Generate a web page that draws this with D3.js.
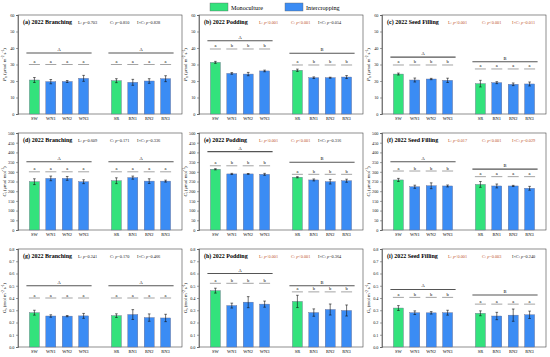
<!DOCTYPE html>
<html><head><meta charset="utf-8">
<script src="https://cdn.jsdelivr.net/npm/d3@7"></script>
<style>body{margin:0;background:#fff}svg{display:block}text{font-family:"Liberation Serif","Times New Roman",serif}</style>
</head><body>
<svg id="c" width="550" height="357"></svg>
<script>
const categories = ["SW","WN1","WN2","WN3","SR","RN1","RN2","RN3"];
const slots = ["_l","SW","WN1","WN2","WN3","_g","SR","RN1","RN2","RN3","_r"];
const titles = ["(a) 2022 Branching","(b) 2022 Podding","(c) 2022 Seed Filling",
                "(d) 2022 Branching","(e) 2022 Podding","(f) 2022 Seed Filling",
                "(g) 2022 Branching","(h) 2022 Podding","(i) 2022 Seed Filling"];
const statsText = [
 ["L: p=0.703","C: p=0.810","I×C: p=0.828"],
 ["L: p<0.001","C: p<0.001","I×C: p=0.054"],
 ["L: p<0.001","C: p<0.001","I×C: p=0.011"],
 ["L: p=0.609","C: p=0.171","I×C: p=0.336"],
 ["L: p<0.001","C: p<0.001","I×C: p=0.316"],
 ["L: p=0.017","C: p<0.001","I×C: p=0.029"],
 ["L: p=0.241","C: p=0.170","I×C: p=0.466"],
 ["L: p<0.001","C: p<0.001","I×C: p=0.364"],
 ["L: p<0.001","C: p=0.003","I×C: p=0.240"]];
const statsSig = [[0,0,0],[1,1,0],[1,1,1],[0,0,0],[1,1,0],[1,1,1],[0,0,0],[1,1,0],[1,1,0]];

// Pn
const pnBranch = [20.6,19.6,19.7,21.6,20.2,19.2,20.0,21.4];
const pnBranchErr = [1.5,1.3,0.6,1.8,1.2,1.8,1.4,1.8];
const pnPod = [31.3,24.6,24.2,26.1,26.5,22.0,22.0,22.4];
const pnPodErr = [0.6,0.5,1.0,0.5,0.7,0.5,0.3,0.9];
const pnFill = [24.2,20.6,21.2,20.4,18.4,19.0,18.0,18.2];
const pnFillErr = [0.6,1.2,0.4,1.3,2.0,0.6,0.8,1.2];
// Ci
const ciBranch = [249,266,266,249,254,270,252,252];
const ciBranchErr = [15,12,10,10,15,8,12,5];
const ciPod = [313,289,289,287,272,258,249,254];
const ciPodErr = [3,3,2,5,3,5,12,8];
const ciFill = [258,223,228,227,235,227,227,215];
const ciFillErr = [8,8,15,5,15,10,3,10];
// Gs
const gsBranch = [0.28,0.253,0.252,0.254,0.256,0.265,0.24,0.237];
const gsBranchErr = [0.02,0.01,0.005,0.02,0.015,0.04,0.03,0.03];
const gsPod = [0.46,0.338,0.366,0.35,0.372,0.281,0.306,0.298];
const gsPodErr = [0.02,0.02,0.045,0.025,0.05,0.03,0.045,0.045];
const gsFill = [0.318,0.28,0.279,0.28,0.275,0.253,0.26,0.263];
const gsFillErr = [0.02,0.015,0.01,0.02,0.02,0.03,0.05,0.03];

const values = [pnBranch,pnPod,pnFill,ciBranch,ciPod,ciFill,gsBranch,gsPod,gsFill];
const errors = [pnBranchErr,pnPodErr,pnFillErr,ciBranchErr,ciPodErr,ciFillErr,gsBranchErr,gsPodErr,gsFillErr];

const smallLetters = [
 ["a","a","a","a","a","a","a","a"],
 ["a","b","b","b","a","b","b","b"],
 ["a","b","b","b","a","a","a","a"],
 ["a","a","a","a","a","a","a","a"],
 ["a","b","b","b","a","b","b","b"],
 ["a","b","b","b","a","a","a","a"],
 ["a","a","a","a","a","a","a","a"],
 ["a","b","b","b","a","b","b","b"],
 ["a","b","b","b","a","a","a","a"]];
const bigLetters = [["A","A"],["A","B"],["A","B"],["A","A"],["A","B"],["A","B"],["A","A"],["A","B"],["A","B"]];
// annotation levels (data units): [big left, big right, small left, small right]
const levels = [
 [37,37,30,30],[44.4,36.8,39.4,29.7],[34.5,31.7,29.7,27.3],
 [352,352,300,300],[404,349,331,287],[352,314,304,275],
 [0.5,0.5,0.4,0.4],[0.6,0.5,0.52,0.45],[0.47,0.425,0.405,0.35]];

const yMax = [60,500,0.8];
const yStep = [10,50,0.1];
const yLabels = [["P","n"," (μmol m","-2"," s","-1",")"],["C","i"," (μmol mol","-1",")","",""],["G","s"," (mol m","-2"," s","-1",")"]];
const legendNames = ["Monoculture","Intercropping"];

const colX = [18,199,382], panelW = 164;
const rowTop = [15,133,249], rowBot = [114,230,347];
const green = "#33e27c", blue = "#3b8cf4", sigColor = "#c0562a";

const svg = d3.select("#c");

// legend
const leg = svg.append("g");
[[210,green,legendNames[0]],[285,blue,legendNames[1]]].forEach(([x,c,t])=>{
  leg.append("rect").attr("x",x).attr("y",3).attr("width",18).attr("height",8).attr("fill",c).attr("stroke","#666").attr("stroke-width",0.4);
  leg.append("text").attr("x",x+21).attr("y",10).attr("font-size",6.2).text(t);
});

for(let p=0;p<9;p++){
  const r = Math.floor(p/3), c = p%3;
  const x0 = colX[c], top = rowTop[r], bot = rowBot[r];
  const g = svg.append("g");
  const x = d3.scalePoint().domain(slots).range([x0,x0+panelW]);
  const y = d3.scaleLinear().domain([0,yMax[r]]).range([bot,top]);
  const ticks = d3.range(0, yMax[r]+yStep[r]/2, yStep[r]);
  const fmt = r===2 ? d3.format(".1f") : d3.format("d");
  // frame
  g.append("rect").attr("x",x0).attr("y",top).attr("width",panelW).attr("height",bot-top)
   .attr("fill","none").attr("stroke","#444").attr("stroke-width",0.6);
  const ax = g.append("g").attr("transform",`translate(${x0},0)`)
    .call(d3.axisLeft(y).tickValues(ticks).tickFormat(fmt).tickSize(2).tickPadding(1.5));
  ax.select(".domain").attr("stroke","#444").attr("stroke-width",0.6);
  ax.selectAll(".tick line").attr("stroke","#444").attr("stroke-width",0.5);
  ax.selectAll(".tick text").attr("font-size",4.3).attr("font-family","Liberation Serif").attr("fill","#222");
  // y label
  const yl = yLabels[r];
  const lt = g.append("text").attr("transform",`translate(${x0-12},${(top+bot)/2}) rotate(-90)`)
    .attr("text-anchor","middle").attr("font-size",4.8);
  lt.append("tspan").attr("font-style","italic").text(yl[0]);
  lt.append("tspan").attr("font-size",3.4).attr("dy",1).text(yl[1]);
  lt.append("tspan").attr("dy",-1).text(yl[2]);
  if(yl[3]) lt.append("tspan").attr("font-size",3.4).attr("dy",-1.8).text(yl[3]);
  lt.append("tspan").attr("dy",yl[3]?1.8:0).text(yl[4]);
  if(yl[5]) { lt.append("tspan").attr("font-size",3.4).attr("dy",-1.8).text(yl[5]); lt.append("tspan").attr("dy",1.8).text(yl[6]); }
  // title & stats
  g.append("text").attr("x",x0+5).attr("y",top+9).attr("font-size",6).attr("font-weight","bold").text(titles[p]);
  const sx = c===2 ? [66,100,130] : [60,92,119];
  statsText[p].forEach((t,i)=>{
    const parts = t.split(" ");
    const tx = g.append("text").attr("x",x0+sx[i]).attr("y",top+9).attr("font-size",4.3)
      .attr("fill",statsSig[p][i]?sigColor:"#222");
    tx.append("tspan").text(parts[0]+" ");
    tx.append("tspan").attr("font-style","italic").text(parts[1].slice(0,1));
    tx.append("tspan").text(parts[1].slice(1));
  });
  // bars
  const bw = 10;
  const data = categories.map((k,i)=>({k,i,v:values[p][i],e:errors[p][i]}));
  g.selectAll("rect.bar").data(data).join("rect").attr("class","bar")
    .attr("x",d=>x(d.k)-bw/2).attr("width",bw)
    .attr("y",d=>y(d.v)).attr("height",d=>y(0)-y(d.v))
    .attr("fill",d=>(d.k==="SW"||d.k==="SR")?green:blue)
    .attr("stroke","#6a6a8a").attr("stroke-width",0.4);
  // error bars
  data.forEach(d=>{
    const cx = x(d.k);
    g.append("line").attr("x1",cx).attr("x2",cx).attr("y1",y(d.v-d.e)).attr("y2",y(d.v+d.e)).attr("stroke","#111").attr("stroke-width",0.6);
    [d.v-d.e,d.v+d.e].forEach(v=>g.append("line").attr("x1",cx-1.3).attr("x2",cx+1.3).attr("y1",y(v)).attr("y2",y(v)).attr("stroke","#111").attr("stroke-width",0.6));
  });
  // significance
  const lv = levels[p];
  [[0,3],[4,7]].forEach(([a,b],gi)=>{
    const x1 = x(categories[a])-8, x2 = x(categories[b])+8, yy = y(lv[gi]);
    g.append("line").attr("x1",x1).attr("x2",x2).attr("y1",yy).attr("y2",yy).attr("stroke","#555").attr("stroke-width",1.1);
    g.append("text").attr("x",(x1+x2)/2).attr("y",yy-2).attr("text-anchor","middle").attr("font-size",4.5).text(bigLetters[p][gi]);
    for(let i=a;i<=b;i++){
      const cx = x(categories[i]), ys = y(lv[2+gi]);
      g.append("line").attr("x1",cx-5.5).attr("x2",cx+5.5).attr("y1",ys).attr("y2",ys).attr("stroke","#666").attr("stroke-width",0.6);
      g.append("text").attr("x",cx).attr("y",ys-1.5).attr("text-anchor","middle").attr("font-size",4.5).text(smallLetters[p][i]);
    }
  });
  // category labels
  categories.forEach(k=>g.append("text").attr("x",x(k)).attr("y",bot+6).attr("text-anchor","middle").attr("font-size",4.5).text(k));
}
</script>
</body></html>
